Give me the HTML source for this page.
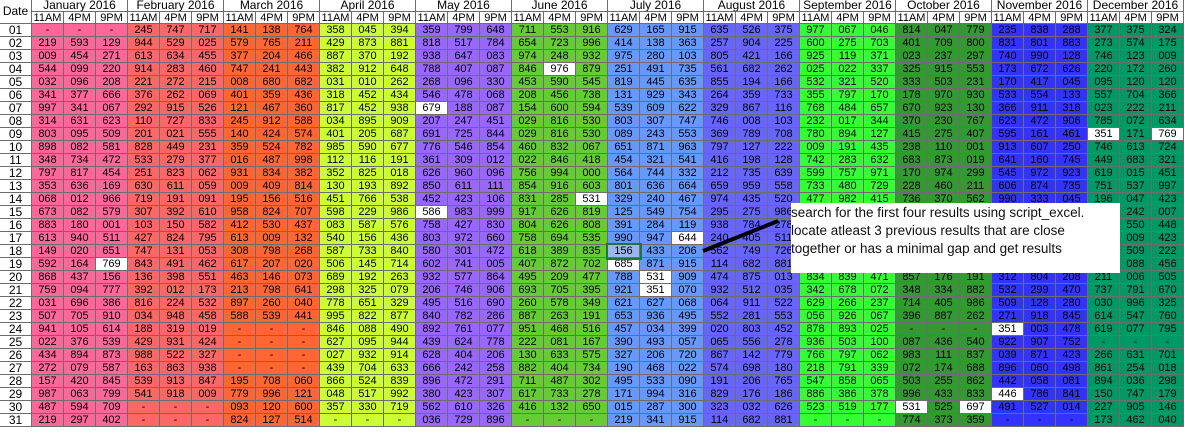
<!DOCTYPE html>
<html><head><meta charset="utf-8">
<style>
body{margin:0;width:1185px;height:437px;background:#fff;overflow:hidden;font-family:"Liberation Sans",sans-serif;}
#grid{position:absolute;left:0;top:0;width:1185px;height:437px;}
.c{position:absolute;box-sizing:border-box;border-right:1px solid #6d6d6d;border-bottom:1px solid #6d6d6d;font-size:11px;line-height:12px;text-align:center;color:#000;overflow:hidden;white-space:nowrap;}
#note{position:absolute;left:791px;top:203px;width:329px;height:70px;background:#fff;font-family:"Liberation Sans",sans-serif;font-size:13.5px;line-height:18px;color:#111;padding-top:1px;box-sizing:border-box;}
</style></head><body>
<div id="grid"></div>
<svg style="position:absolute;left:0;top:0" width="1185" height="437">
<line x1="703" y1="251" x2="778" y2="221" stroke="#000" stroke-width="4"/>
</svg>
<div id="note">search for the first four results using script_excel.<br>locate atleast 3 previous results that are close<br>together or has a minimal gap and get results</div>
<script>
const months=["January 2016","February 2016","March 2016","April 2016","May 2016","June 2016","July 2016","August 2016","September 2016","October 2016","November 2016","December 2016"];
const monthColors=["#ff6699","#ff6666","#ff6633","#ccff33","#9966ff","#66cc33","#6699ff","#6666ff","#33ff33","#339933","#3333ff","#009966"];
const times=["11AM","4PM","9PM"];
const rows=[
"- - - 245 747 717 141 138 764 358 045 394 359 799 648 711 553 916 629 165 915 635 526 375 977 067 046 814 047 779 235 838 288 377 375 324",
"219 593 129 944 529 025 579 765 211 429 873 881 818 517 784 654 723 996 414 138 363 257 904 225 600 275 703 401 709 800 831 801 883 273 574 175",
"009 454 271 613 634 455 377 204 466 887 370 192 938 647 083 974 248 932 975 280 103 805 421 166 925 119 371 023 237 297 740 990 128 746 123 009",
"544 099 220 914 283 460 747 241 443 382 912 648 788 407 087 846 976 879 251 491 735 561 682 262 025 022 337 325 915 553 173 672 626 220 172 260",
"032 096 208 221 272 215 008 680 682 031 010 262 268 096 330 453 590 545 819 445 635 855 194 166 532 321 520 333 503 231 170 417 045 095 120 120",
"341 377 666 376 262 069 401 359 436 318 452 434 546 478 068 208 456 738 131 929 343 264 359 733 355 797 170 178 970 930 533 554 133 557 704 366",
"997 341 067 292 915 526 121 467 360 817 452 938 679 188 087 154 600 594 539 609 622 329 867 116 768 484 657 670 923 130 366 911 318 023 222 211",
"314 631 623 110 727 833 245 912 588 034 895 909 207 247 451 029 816 530 803 307 747 746 008 103 232 017 344 370 230 767 623 472 906 785 072 634",
"803 095 509 201 021 555 140 424 574 401 205 687 691 725 844 029 816 530 089 243 553 369 789 708 780 894 127 415 275 407 595 161 461 351 171 769",
"898 082 581 828 449 231 359 524 782 985 590 677 776 546 854 460 832 067 651 871 963 797 127 222 009 191 435 238 110 001 913 607 250 746 613 724",
"348 734 472 533 279 377 016 487 998 112 116 191 361 309 012 022 846 418 454 321 541 416 198 128 742 283 632 683 873 019 641 160 745 449 683 321",
"797 817 454 251 823 062 931 834 382 352 825 018 626 960 096 756 994 000 564 744 332 212 735 639 599 757 971 170 974 299 545 972 923 619 015 451",
"353 636 169 630 611 059 009 409 814 130 193 892 850 611 111 854 916 603 801 636 664 659 959 558 733 480 729 228 460 211 606 874 735 751 537 997",
"068 012 966 719 191 091 195 156 516 451 766 538 452 423 106 831 285 531 329 240 467 974 435 520 477 982 415 736 370 562 990 333 045 196 047 423",
"673 082 579 307 392 610 958 824 707 598 229 986 586 983 999 917 626 819 125 549 754 295 275 986 512 480 130 244 617 301 456 309 128 633 242 007",
"883 180 001 103 150 582 412 530 437 083 587 576 758 427 830 804 626 808 391 284 119 938 784 278 310 721 904 512 330 816 147 268 555 730 550 448",
"613 940 511 427 824 795 613 009 132 540 156 436 803 972 660 758 694 535 990 947 644 240 405 511 620 188 374 905 441 267 318 726 093 412 009 423",
"149 020 651 747 131 053 308 798 268 587 733 840 580 301 472 618 389 835 156 433 206 562 749 726 233 571 809 164 390 752 681 205 347 876 509 222",
"592 164 769 843 491 462 617 207 020 506 145 714 602 741 005 407 872 702 685 871 915 114 682 881 470 316 922 508 263 194 735 841 066 319 088 456",
"868 437 156 136 398 551 463 146 073 689 192 263 932 577 864 495 209 477 788 531 909 474 875 013 834 839 471 857 176 191 312 804 208 211 006 505",
"759 094 777 392 012 173 213 798 641 298 325 079 206 746 906 693 705 395 921 351 070 932 512 035 342 678 072 348 334 882 532 299 470 737 791 670",
"031 696 386 816 224 532 897 260 040 778 651 329 495 516 690 260 578 349 621 627 068 064 911 522 629 266 237 714 405 986 509 128 280 030 996 325",
"507 705 910 034 948 458 588 539 441 995 822 877 840 782 286 887 263 191 653 936 495 552 281 553 056 926 067 396 887 262 271 918 845 614 547 760",
"941 105 614 188 319 019 - - - 846 088 490 892 761 077 951 468 516 457 034 399 020 803 452 878 893 025 - - - 351 003 478 619 077 795",
"022 376 539 429 931 424 - - - 627 095 944 439 624 778 222 081 167 390 493 057 065 556 278 936 503 100 087 436 540 922 907 752 - - -",
"434 894 873 988 522 327 - - - 027 932 914 628 404 206 130 633 575 327 206 720 867 142 779 766 797 062 983 111 837 039 871 423 266 631 701",
"272 079 587 163 863 938 - - - 439 704 633 666 242 258 882 404 734 190 468 022 574 698 180 218 791 339 072 174 688 896 060 498 861 254 018",
"157 420 845 539 913 847 195 708 060 866 524 839 896 472 291 711 487 302 495 533 090 191 206 765 547 858 065 503 255 862 442 058 081 894 036 298",
"987 063 799 541 918 009 779 996 121 048 517 992 380 423 307 617 733 278 171 994 316 829 176 186 886 386 378 996 433 833 446 786 841 150 747 179",
"487 594 709 - - - 093 120 600 357 330 719 562 610 326 416 132 650 015 287 300 323 032 626 523 519 177 531 525 697 491 527 014 227 905 146",
"219 297 402 - - - 824 127 514 - - - 036 729 896 - - - 219 341 915 114 682 881 - - - 774 373 359 - - - 173 462 040"
];
const whiteCells=["4,16","7,12","15,12","14,17","17,20","19,18","20,19","21,19","19,2","9,33","9,35","24,30","29,30","30,27","30,29"];
const CW=32,RH=13,TOP=24,LEFT=32;
const g=document.getElementById('grid');
function cell(x,y,w,h,txt,bg,name,inter){
  const d=document.createElement('div');
  d.className='c';
  d.style.left=x+'px';d.style.top=y+'px';d.style.width=w+'px';d.style.height=h+'px';
  d.style.background=bg;d.textContent=txt;
  
  
  g.appendChild(d);return d;
}
const dh=cell(0,0,LEFT,TOP,'Date','#fff','date-header',false);
dh.style.lineHeight='22px';dh.style.fontSize='12px';
months.forEach((m,i)=>{
  const mh=cell(LEFT+i*96,0,96,12,m,'#fff','month-header',false);
  mh.style.fontSize='12px';mh.style.lineHeight='11px';
  times.forEach((t,j)=>{cell(LEFT+i*96+j*CW,12,CW,12,t,'#fff','time-header',false);});
});
rows.forEach((r,ri)=>{
  const y=TOP+ri*RH;
  const dc=cell(0,y,LEFT,RH,String(ri+1).padStart(2,'0'),'#fff','date-label',false);
  dc.style.fontSize='12px';
  r.split(' ').forEach((v,ci)=>{
    let bg=monthColors[Math.floor(ci/3)];
    if(whiteCells.includes((ri+1)+','+ci)) bg='#fff';
    const c=cell(LEFT+ci*CW,y,CW,RH,v,bg,'result-cell',true);
    if(ri===17&&ci===18){c.style.background='#9ab6f0';c.style.outline='2px solid #217346';c.style.zIndex=2;}
  });
});
</script>
</body></html>
